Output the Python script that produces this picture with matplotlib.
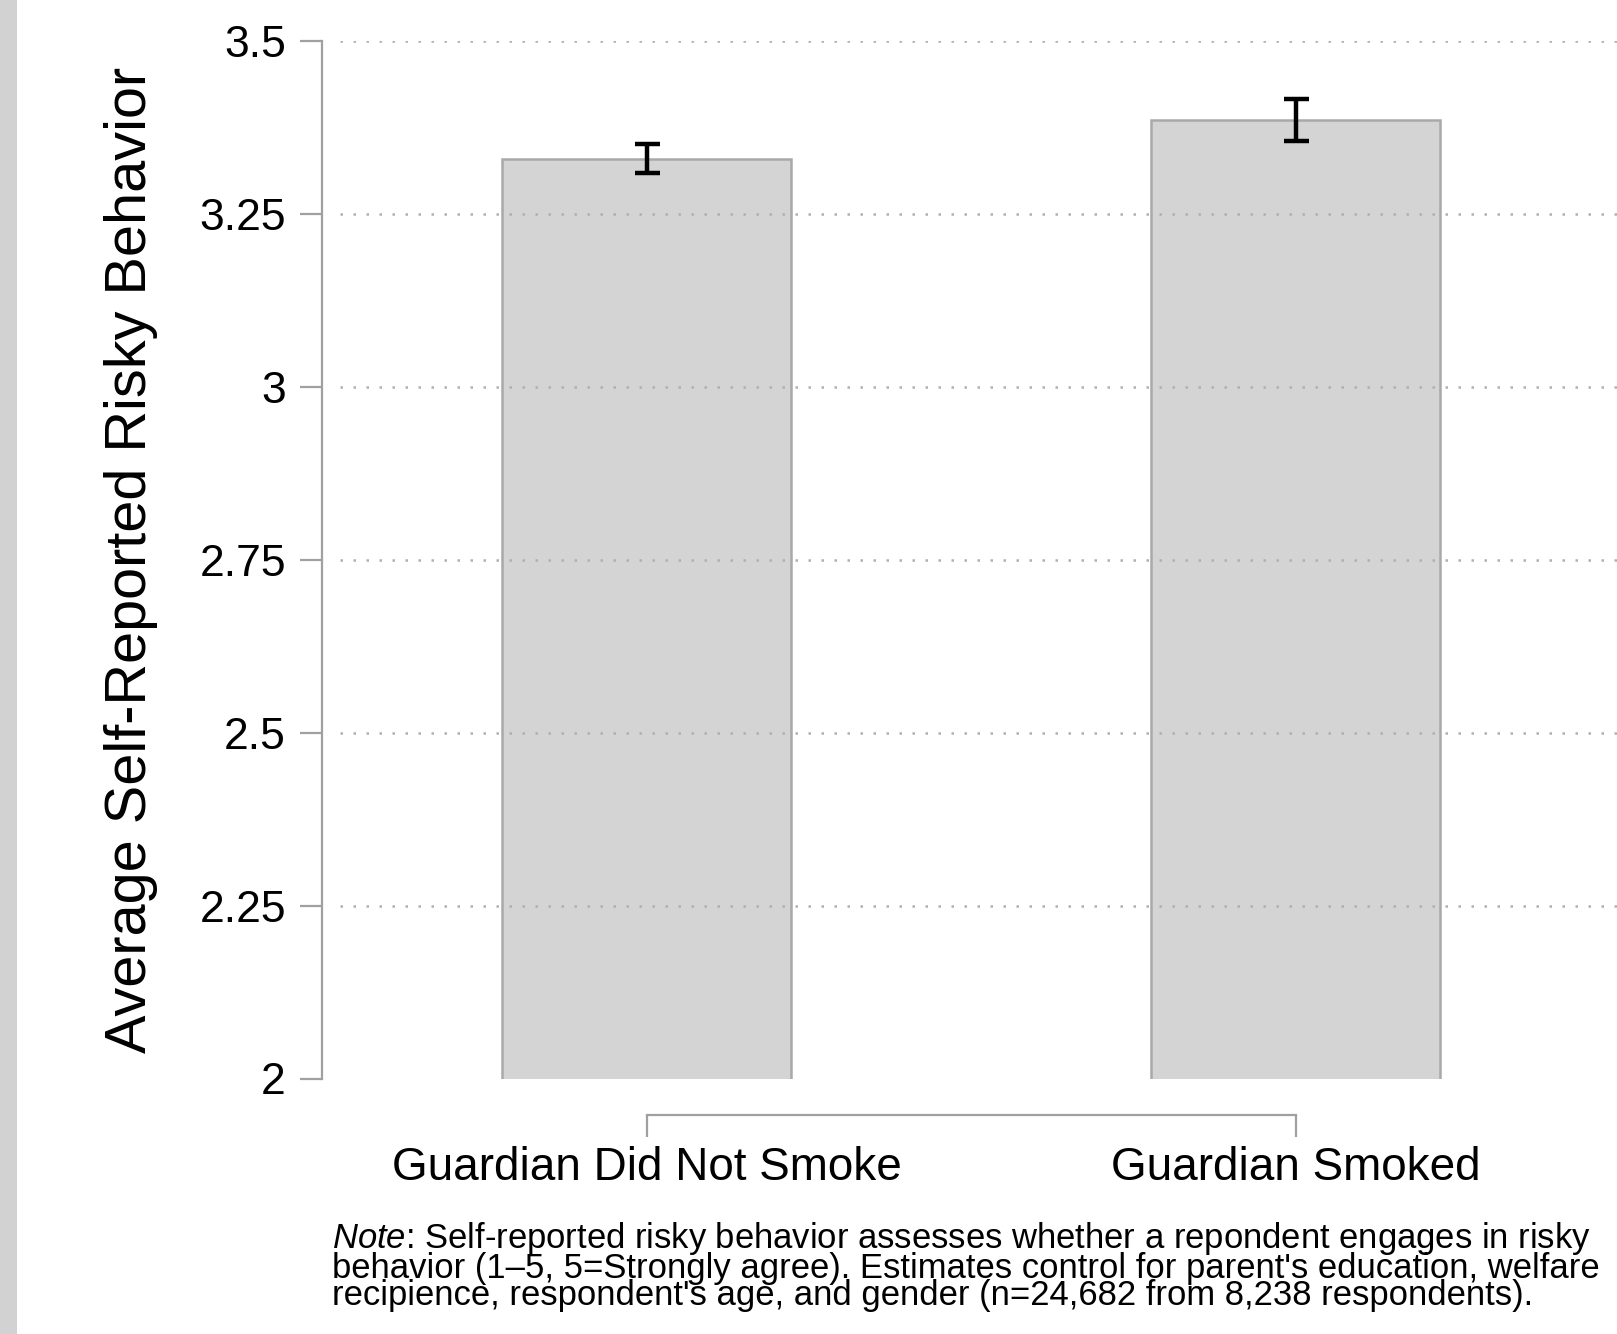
import matplotlib.pyplot as plt
import numpy as np

plt.rcParams['font.family'] = ['Liberation Sans', 'DejaVu Sans']
plt.rcParams['mathtext.fontset'] = 'custom'
plt.rcParams['mathtext.it'] = 'Liberation Sans:italic'
plt.rcParams['mathtext.rm'] = 'Liberation Sans'

# data
groups = ['Guardian Did Not Smoke', 'Guardian Smoked']
means = [3.330, 3.386]
errs = [0.021, 0.031]
yticks = [2, 2.25, 2.5, 2.75, 3, 3.25, 3.5]
ytick_labels = ['2', '2.25', '2.5', '2.75', '3', '3.25', '3.5']

fig = plt.figure(figsize=(16.17, 13.34), dpi=100)
ax = fig.add_axes([322 / 1617, 1 - 1078.5 / 1334, 1298 / 1617, (1078.5 - 41.2) / 1334])

# grey strip down the left edge
fig.patches.append(plt.Rectangle((0, 0), 17 / 1617, 1, transform=fig.transFigure,
                                 facecolor='#d2d2d2', edgecolor='none', zorder=0))

x = np.arange(len(groups))
ax.bar(x, means, width=0.445, bottom=0, color='#d4d4d4', edgecolor='#a9a9a9',
       linewidth=1.8, zorder=1)
ax.errorbar(x, means, yerr=errs, fmt='none', ecolor='black', elinewidth=3.2,
            capsize=9, capthick=3.2, zorder=4)

ax.set_xlim(-0.5, 1.5)
ax.set_ylim(2, 3.5)

# dotted gridlines over the bars
for yv in yticks[1:]:
    ax.axhline(yv, xmin=0.014, color='#b0b0b0', linewidth=1.8,
               linestyle=(0, (1, 4.2)), zorder=3)

ax.set_yticks(yticks)
ax.set_yticklabels(ytick_labels)
ax.set_xticks(x)
ax.set_xticklabels(groups)

for s in ['top', 'right']:
    ax.spines[s].set_visible(False)
for s in ['left', 'bottom']:
    ax.spines[s].set_color('#a0a0a0')
    ax.spines[s].set_linewidth(1.6)
ax.spines['left'].set_bounds(2, 3.5)
ax.spines['bottom'].set_bounds(0, 1)
ax.spines['bottom'].set_position(('outward', 26.6))

ax.tick_params(axis='y', direction='out', length=16, width=1.6, color='#a0a0a0',
               labelsize=32, pad=10)
ax.tick_params(axis='x', direction='out', length=16, width=1.6, color='#a0a0a0',
               labelsize=33, pad=6)

fig.text(131 / 1617, 0.5 * (2 - (1078.5 + 41.2) / 1334), 'Average Self-Reported Risky Behavior',
         rotation=90, ha='center', va='center', fontsize=41.5)

note = ('$\\it{Note}$: Self-reported risky behavior assesses whether a repondent engages in risky\n'
        'behavior (1\u20135, 5=Strongly agree). Estimates control for parent\'s education, welfare\n'
        'recipience, respondent\'s age, and gender (n=24,682 from 8,238 respondents).')
fig.text(332 / 1617, 1 - 1220 / 1334, note, ha='left', va='top', fontsize=24.9,
         linespacing=0.79)

fig.savefig('out.png', dpi=100)
